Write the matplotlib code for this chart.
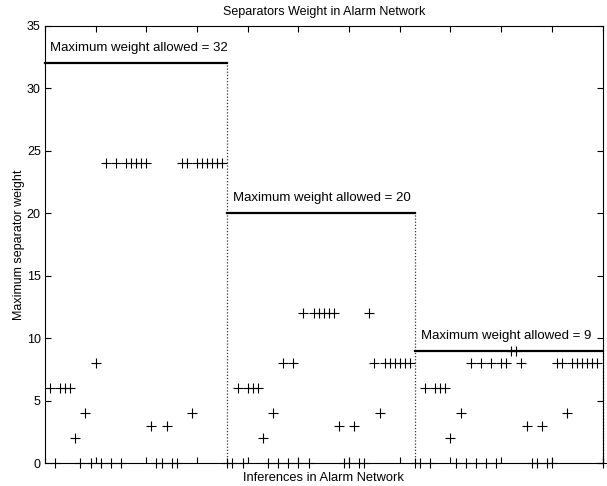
import matplotlib
matplotlib.use('Agg')
import matplotlib.pyplot as plt

# Separator weight per inference, three runs with different caps
run1_weights = [6, 0, 6, 6, 6, 2, 0, 4, 0, 8, 0, 24, 0, 24, 0, 24, 24, 24, 24, 24,
                3, 0, 0, 3, 0, 0, 24, 24, 4, 24, 24, 24, 24, 24, 24, 0]
run2_weights = [0, 6, 0, 6, 6, 6, 2, 0, 4, 0, 8, 0, 8, 0, 12, 0, 12, 12, 12, 12,
                12, 3, 0, 0, 3, 0, 0, 12, 8, 4, 8, 8, 8, 8, 8, 8, 0]
run3_weights = [0, 6, 0, 6, 6, 6, 2, 0, 4, 0, 8, 0, 8, 0, 8, 0, 8, 8, 9, 9,
                8, 3, 0, 0, 3, 0, 0, 8, 8, 4, 8, 8, 8, 8, 8, 8, 0]

max_allowed = [32, 20, 9]
run_labels = ['Maximum weight allowed = 32', 'Maximum weight allowed = 20',
              'Maximum weight allowed = 9']

plt.rcParams['font.family'] = ['Liberation Sans', 'DejaVu Sans']

fig = plt.figure(figsize=(6.07, 4.86), dpi=100)
ax = fig.add_axes([0.074, 0.0467, 0.9187, 0.9002])

runs = [run1_weights, run2_weights, run3_weights]
weights = run1_weights + run2_weights + run3_weights
xs = list(range(1, len(weights) + 1))

# cap line over each run, dotted line closing it off
start = 0
for run, cap, label in zip(runs, max_allowed, run_labels):
    end = start + len(run)
    ax.plot([start, end], [cap, cap], color='black', lw=1.6, clip_on=False, zorder=3)
    ax.plot([end, end], [0, cap], color='#333333', lw=0.9, ls=(0, (1, 1.5)),
            clip_on=False, zorder=2)
    ax.text(start + 1.1, cap + 1.2, label, fontsize=9.5, va='center', ha='left')
    start = end

ax.plot(xs, weights, '+', color='black', markersize=6.5, mew=0.8, clip_on=False, zorder=4)

ax.set_xlim(0, 110)
ax.set_ylim(0, 35)
ax.set_xticks(range(0, 111, 10))
ax.set_xticklabels([])
ax.set_yticks(range(0, 36, 5))
ax.tick_params(direction='in', top=True, right=True, length=4, width=0.8, labelsize=9)
ax.tick_params(axis='y', pad=3)
for s in ax.spines.values():
    s.set_linewidth(0.8)

ax.set_title('Separators Weight in Alarm Network', fontsize=9, pad=8)
ax.set_xlabel('Inferences in Alarm Network', fontsize=9.3, labelpad=3)
ax.set_ylabel('Maximum separator weight', fontsize=9, labelpad=1)

fig.savefig('out.png', dpi=100)
